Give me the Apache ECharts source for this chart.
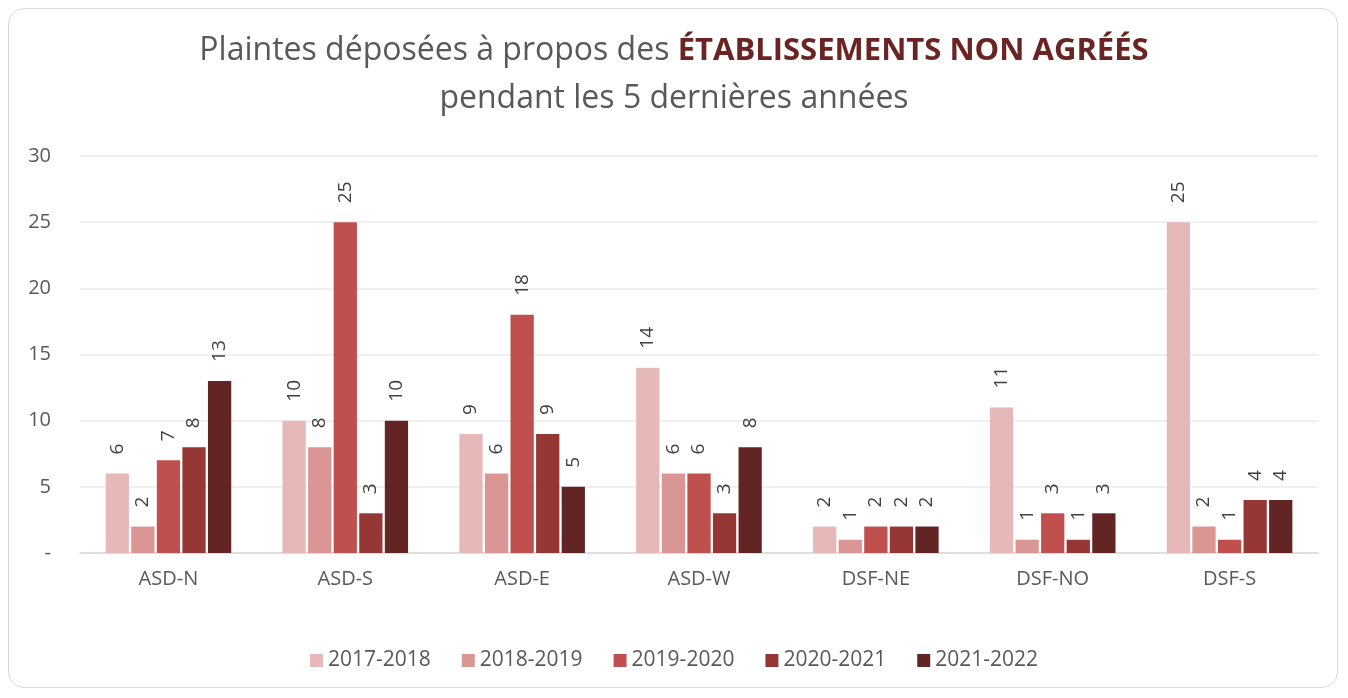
<!DOCTYPE html>
<html>
<head>
<meta charset="utf-8">
<script src="https://cdn.jsdelivr.net/npm/echarts@6/dist/echarts.min.js"></script>
<style>
  html, body { margin: 0; padding: 0; background: #fff; }
  #frame {
    position: absolute; left: 8px; top: 8px; width: 1330px; height: 680px;
    border: 1.5px solid #d9d9d9; border-radius: 16px; box-sizing: border-box;
  }
  #content { position: absolute; left: 0; top: 0; width: 1348px; height: 698px; }
</style>
</head>
<body>
<div id="frame"></div>
<div id="content"></div>
<script>
const regions = ['ASD-N', 'ASD-S', 'ASD-E', 'ASD-W', 'DSF-NE', 'DSF-NO', 'DSF-S'];
const years = ['2017-2018', '2018-2019', '2019-2020', '2020-2021', '2021-2022'];
const y2017 = [6, 10, 9, 14, 2, 11, 25];
const y2018 = [2, 8, 6, 6, 1, 1, 2];
const y2019 = [7, 25, 18, 6, 2, 3, 1];
const y2020 = [8, 3, 9, 3, 2, 1, 4];
const y2021 = [13, 10, 5, 8, 2, 3, 4];
const colors = ['#E6B9B8', '#D99694', '#C0504D', '#953735', '#632523'];

const font = '"Open Sans", "Noto Sans", sans-serif';
const chart = echarts.init(document.getElementById('content'));

const series = [y2017, y2018, y2019, y2020, y2021].map((vals, i) => ({
  name: years[i],
  type: 'bar',
  data: vals,
  barGap: '10%',
  barCategoryGap: '29%',
  itemStyle: { color: colors[i] },
  label: {
    show: true,
    position: 'top',
    rotate: 90,
    align: 'left',
    verticalAlign: 'middle',
    distance: 19,
    color: '#404040',
    fontSize: 19,
    fontFamily: font
  }
}));

chart.setOption({
  animation: false,
  color: colors,
  title: {
    text: 'Plaintes déposées à propos des {b|ÉTABLISSEMENTS NON AGRÉÉS}\npendant les 5 dernières années',
    left: 'center',
    top: 22,
    textStyle: {
      color: '#595959',
      fontSize: 32,
      fontWeight: 'normal',
      fontFamily: font,
      lineHeight: 48,
      rich: {
        b: { color: '#6A2424', fontWeight: 'bold', fontSize: 31, fontFamily: font, lineHeight: 48 }
      }
    }
  },
  legend: {
    bottom: 22,
    left: 'center',
    itemWidth: 13,
    itemHeight: 13,
    itemGap: 31,
    icon: 'rect',
    textStyle: { color: '#595959', fontSize: 21, fontFamily: font }
  },
  grid: { left: 80, right: 30, top: 156, bottom: 145 },
  xAxis: {
    type: 'category',
    data: regions,
    axisTick: { show: false },
    axisLine: { lineStyle: { color: '#d9d9d9', width: 1.5 } },
    axisLabel: { color: '#595959', fontSize: 20, fontFamily: font, margin: 16 }
  },
  yAxis: {
    type: 'value',
    min: 0,
    max: 30,
    interval: 5,
    axisLine: { show: false },
    axisTick: { show: false },
    splitLine: { lineStyle: { color: '#ebebeb', width: 1.5 } },
    axisLabel: {
      color: '#595959', fontSize: 20, fontFamily: font, margin: 29,
      formatter: v => v === 0 ? '-' : v
    }
  },
  series: series
});
</script>
</body>
</html>
